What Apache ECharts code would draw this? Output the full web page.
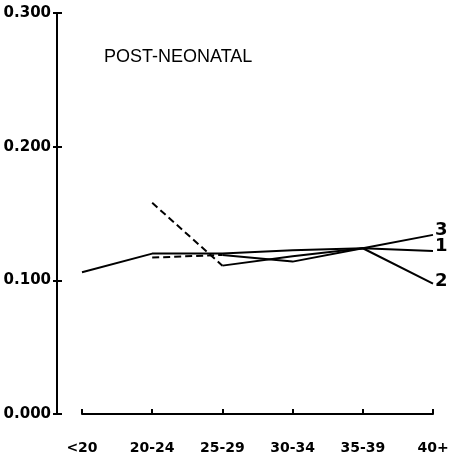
<!DOCTYPE html>
<html>
<head>
<meta charset="utf-8">
<script src="https://cdn.jsdelivr.net/npm/echarts@6/dist/echarts.min.js"></script>
<style>
  html, body { margin: 0; padding: 0; background: #fff; }
  #chart { width: 458px; height: 462px; }
</style>
</head>
<body>
<div id="chart"></div>
<script>
// Maternal age groups along the x axis
const ageGroups = ['<20', '20-24', '25-29', '30-34', '35-39', '40+'];

// Post-neonatal rates for the three curves (null = no value for that group)
const rate1 = [0.106, 0.120, 0.120, 0.1225, 0.124, 0.122];
const rate2 = [null, 0.158, 0.111, 0.118, 0.124, 0.0975];
const rate3 = [null, 0.117, 0.119, 0.114, 0.124, 0.134];

// Y axis tick values
const yTicks = [0, 0.1, 0.2, 0.3];

// Curves 2 and 3 start with a dashed segment (first two available groups)
const dashedEnd = 2;

const ink = '#000';

function part(arr, from, to) {
  return arr.map((v, i) => (i >= from && i <= to ? v : null));
}

function solidSeries(name, data, offsetY) {
  return {
    name: name,
    type: 'line',
    data: data,
    symbol: 'none',
    connectNulls: false,
    lineStyle: { color: ink, width: 2 },
    endLabel: {
      show: true,
      formatter: name,
      fontFamily: 'DejaVu Sans',
      fontWeight: 'bold',
      fontSize: 18,
      color: ink,
      distance: 2,
      offset: [0, offsetY]
    },
    z: 3
  };
}

function dashedSeries(data) {
  return {
    type: 'line',
    data: data,
    symbol: 'none',
    lineStyle: { color: ink, width: 2, type: [7, 4] },
    z: 2
  };
}

const chart = echarts.init(document.getElementById('chart'), null, { renderer: 'canvas' });

chart.setOption({
  animation: false,
  backgroundColor: '#fff',
  title: {
    text: 'POST-NEONATAL',
    left: 104,
    top: 48,
    padding: 0,
    textStyle: { fontFamily: 'Liberation Sans', fontWeight: 'normal', fontSize: 18, color: ink }
  },
  grid: { left: 82, right: 25, top: 13, bottom: 48 },
  xAxis: {
    type: 'category',
    data: ageGroups,
    boundaryGap: false,
    offset: 23,
    axisLine: { lineStyle: { color: ink, width: 2 } },
    axisTick: { show: true, inside: true, length: 5, alignWithLabel: true, lineStyle: { color: ink, width: 2 } },
    axisLabel: {
      margin: 4,
      interval: 0,
      fontFamily: 'DejaVu Sans',
      fontWeight: 'bold',
      fontSize: 14,
      color: ink
    },
    splitLine: { show: false }
  },
  yAxis: [
    {
      type: 'value',
      min: yTicks[0],
      max: yTicks[yTicks.length - 1],
      interval: 0.1,
      offset: 25,
      axisLine: { show: true, lineStyle: { color: ink, width: 2 } },
      axisTick: { show: true, inside: false, length: 4, lineStyle: { color: ink, width: 2 } },
      axisLabel: {
        margin: 6,
        formatter: v => v.toFixed(3),
        fontFamily: 'DejaVu Sans',
        fontWeight: 'bold',
        fontSize: 15,
        color: ink
      },
      splitLine: { show: false }
    },
    {
      type: 'value',
      min: yTicks[0],
      max: yTicks[yTicks.length - 1],
      interval: 0.1,
      offset: 25,
      position: 'left',
      axisLine: { show: false },
      axisTick: { show: true, inside: true, length: 5, lineStyle: { color: ink, width: 2 } },
      axisLabel: { show: false },
      splitLine: { show: false }
    }
  ],
  series: [
    solidSeries('1', rate1, -5),
    dashedSeries(part(rate2, 0, dashedEnd)),
    solidSeries('2', part(rate2, dashedEnd, rate2.length - 1), -2),
    dashedSeries(part(rate3, 0, dashedEnd)),
    solidSeries('3', part(rate3, dashedEnd, rate3.length - 1), -5)
  ]
});
</script>
</body>
</html>
